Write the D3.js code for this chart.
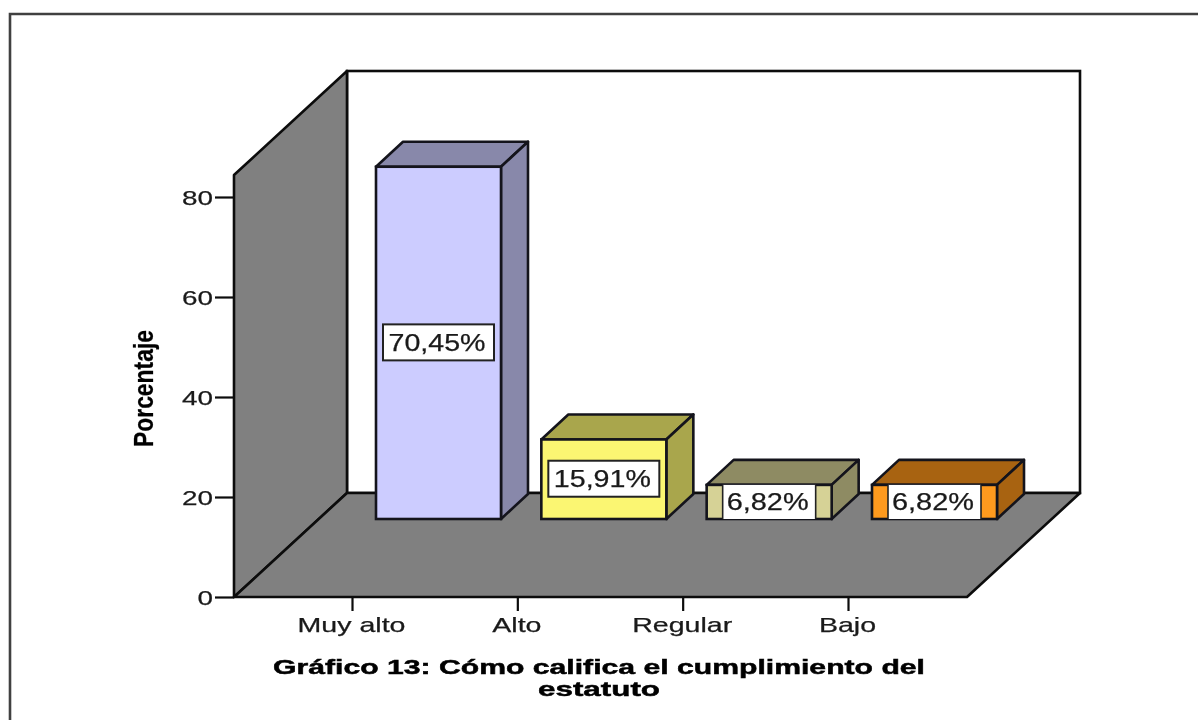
<!DOCTYPE html>
<html>
<head>
<meta charset="utf-8">
<script src="https://cdn.jsdelivr.net/npm/d3@7/dist/d3.min.js"></script>
<style>
html,body{margin:0;padding:0;background:#fff;overflow:hidden}
svg{display:block;filter:blur(0.6px)}
text{font-family:"Liberation Sans",Arial,sans-serif;fill:#1a1a1a;stroke:#1a1a1a;stroke-width:0.25px}
</style>
</head>
<body>
<svg id="chart" width="1198" height="720"></svg>
<script>
const categories = ["Muy alto", "Alto", "Regular", "Bajo"];
const percentages = [70.45, 15.91, 6.82, 6.82];
const barLabels = ["70,45%", "15,91%", "6,82%", "6,82%"];
const frontColors = ["#CCCCFF", "#FBF672", "#D6D296", "#FF9A1E"];
const sideColors = ["#8888AA", "#A9A64C", "#8E8B63", "#A86311"];
const yTicks = [0, 20, 40, 60, 80];
const yAxisTitle = "Porcentaje";
const titleLines = ["Gráfico 13: Cómo califica el cumplimiento del", "estatuto"];

const svg = d3.select("#chart");
const INK = "#0c0c0c";

const y = d3.scaleLinear().domain([0, 80]).range([597, 197]);
const x = d3.scalePoint().domain(categories).range([352, 848]);

// 3D box geometry
const wallLeft = 234, wallDx = 113, wallDy = -104, wallWidth = 733;
const wallTopValue = 84.4;
const barShiftX = 86.5, barShiftY = -78, barW = 125, barDepthX = 27, barDepthY = -25;

const pts = a => a.map(p => p.join(",")).join(" ");

// outer frame
svg.append("path").attr("d", "M10,720V14H1198").attr("fill", "none")
  .attr("stroke", "#404040").attr("stroke-width", 2.6);

// back wall
const backTop = y(wallTopValue) + wallDy, backBottom = y(0) + wallDy;
svg.append("rect").attr("x", wallLeft + wallDx).attr("y", backTop)
  .attr("width", wallWidth).attr("height", backBottom - backTop)
  .attr("fill", "#fff").attr("stroke", INK).attr("stroke-width", 2.6);

// side wall
svg.append("polygon").attr("points", pts([
  [wallLeft, y(wallTopValue)], [wallLeft + wallDx, backTop],
  [wallLeft + wallDx, backBottom], [wallLeft, y(0)]
])).attr("fill", "#808080").attr("stroke", INK).attr("stroke-width", 2.6).attr("stroke-linejoin", "round");

// floor
svg.append("polygon").attr("points", pts([
  [wallLeft, y(0)], [wallLeft + wallDx, backBottom],
  [wallLeft + wallDx + wallWidth, backBottom], [wallLeft + wallWidth, y(0)]
])).attr("fill", "#808080").attr("stroke", INK).attr("stroke-width", 2.6).attr("stroke-linejoin", "round");

// axes
const yAxis = svg.append("g").attr("transform", `translate(${wallLeft},0)`)
  .call(d3.axisLeft(y).tickValues(yTicks).tickSize(19).tickPadding(2).tickFormat(d3.format("d")));
yAxis.select(".domain").remove();
yAxis.selectAll(".tick line").attr("stroke", INK).attr("stroke-width", 2.2);
yAxis.selectAll("text").attr("font-size", 21).attr("dy", "0.36em")
  .each(function () { d3.select(this).attr("textLength", 31 * String(this.textContent).length / 2).attr("lengthAdjust", "spacingAndGlyphs"); });

const xAxis = svg.append("g").attr("transform", `translate(0,${y(0)})`)
  .call(d3.axisBottom(x).tickSize(14));
xAxis.select(".domain").remove();
xAxis.selectAll(".tick line").attr("stroke", INK).attr("stroke-width", 2.2);
xAxis.selectAll("text").attr("font-size", 21).attr("y", 35).attr("dy", 0).attr("x", -1)
  .each(function () { d3.select(this).attr("textLength", this.getComputedTextLength() * 1.36).attr("lengthAdjust", "spacingAndGlyphs"); });

// bars
const bars = svg.append("g").selectAll("g").data(categories).join("g");
const bx = (c) => x(c) + barShiftX - barW / 2;
const btop = (i) => y(percentages[i]) + barShiftY;
const bbot = y(0) + barShiftY;

bars.append("polygon").attr("points", (c, i) => pts([
  [bx(c), btop(i)], [bx(c) + barDepthX, btop(i) + barDepthY],
  [bx(c) + barW + barDepthX, btop(i) + barDepthY], [bx(c) + barW, btop(i)]
])).attr("fill", (c, i) => sideColors[i]);
bars.append("polygon").attr("points", (c, i) => pts([
  [bx(c) + barW, btop(i)], [bx(c) + barW + barDepthX, btop(i) + barDepthY],
  [bx(c) + barW + barDepthX, bbot + barDepthY], [bx(c) + barW, bbot]
])).attr("fill", (c, i) => sideColors[i]);
bars.selectAll("polygon").attr("stroke", "#14141c").attr("stroke-width", 2.6).attr("stroke-linejoin", "round");
bars.append("rect").attr("x", c => bx(c)).attr("y", (c, i) => btop(i))
  .attr("width", barW).attr("height", (c, i) => bbot - btop(i))
  .attr("fill", (c, i) => frontColors[i]).attr("stroke", "#14141c").attr("stroke-width", 2.6);

// value labels
const labelH = 36;
bars.each(function (c, i) {
  const g = d3.select(this);
  const wide = i < 2;
  const w = wide ? 111 : 93;
  const top = btop(i), h = Math.min(labelH, bbot - top);
  const cy = (top + bbot) / 2;
  const cx = bx(c) + barW / 2;
  g.append("rect").attr("x", cx - w / 2).attr("y", cy - h / 2 - (wide ? 0.5 : 0)).attr("width", w).attr("height", h)
    .attr("fill", "#fff").attr("stroke", wide ? "#222" : "none").attr("stroke-width", 2);
  if (!wide) {
    g.append("line").attr("x1", cx - w / 2).attr("x2", cx - w / 2).attr("y1", cy - h / 2).attr("y2", cy + h / 2).attr("stroke", "#222").attr("stroke-width", 1.6);
    g.append("line").attr("x1", cx + w / 2).attr("x2", cx + w / 2).attr("y1", cy - h / 2).attr("y2", cy + h / 2).attr("stroke", "#222").attr("stroke-width", 1.6);
  }
  g.append("text").attr("x", cx - 1.5).attr("y", cy + 8).attr("text-anchor", "middle").attr("font-size", 23)
    .attr("textLength", wide ? 97 : 82).attr("lengthAdjust", "spacingAndGlyphs").text(barLabels[i]);
});

// y-axis title
svg.append("text").attr("transform", "translate(153,388.5) rotate(-90)")
  .attr("text-anchor", "middle").attr("font-size", 28).attr("font-weight", "bold")
  .style("fill", "#000").style("stroke", "#000")
  .attr("textLength", 117).attr("lengthAdjust", "spacingAndGlyphs").text(yAxisTitle);

// chart title
const titleLengths = [652, 122];
svg.append("g").selectAll("text").data(titleLines).join("text")
  .attr("x", 599).attr("y", (d, i) => 674 + i * 22)
  .attr("text-anchor", "middle").attr("font-size", 21).attr("font-weight", "bold")
  .style("fill", "#000").style("stroke", "#000").style("stroke-width", "0.5px")
  .attr("textLength", (d, i) => titleLengths[i]).attr("lengthAdjust", "spacingAndGlyphs")
  .text(d => d);
</script>
</body>
</html>
